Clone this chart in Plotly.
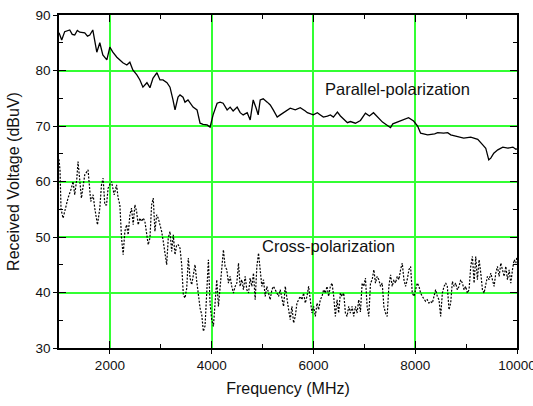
import plotly.graph_objects as go

# ---- data ----
par_freq = [1000, 1053, 1112, 1211, 1260, 1309, 1360, 1408, 1506, 1560, 1605, 1664, 1743, 1802, 1861,
            1940, 1999, 2058, 2137, 2196, 2255, 2333, 2392, 2451, 2530, 2590, 2649, 2728, 2787, 2846,
            2925, 2984, 3043, 3122, 3181, 3240, 3280, 3339, 3378, 3437, 3476, 3535, 3634, 3713, 3772,
            3831, 3910, 3969, 4028, 4107, 4166, 4225, 4304, 4363, 4422, 4501, 4560, 4619, 4698, 4757,
            4816, 4875, 4914, 4954, 5013, 5092, 5151, 5210, 5288, 5348, 5407, 5485, 5544, 5643, 5741,
            5840, 5880, 5998, 6077, 6136, 6195, 6274, 6333, 6392, 6471, 6530, 6589, 6668, 6727, 6825,
            6924, 7022, 7100, 7180, 7357, 7515, 7560, 7712, 7869, 7968, 8047, 8106, 8244, 8382, 8441,
            8559, 8638, 8697, 8835, 8953, 9091, 9229, 9327, 9386, 9445, 9485, 9544, 9623, 9721, 9820,
            9919, 9978, 10000]
par_val = [86.8, 85.5, 87.0, 87.3, 86.5, 86.4, 87.2, 86.9, 86.8, 86.2, 86.4, 87.3, 83.3, 85.0, 82.8,
           81.9, 84.2, 83.3, 82.4, 81.9, 81.4, 81.0, 81.5, 80.1, 79.2, 78.3, 77.0, 77.8, 76.9, 78.6,
           79.6, 78.3, 78.3, 77.8, 77.0, 74.7, 72.9, 75.2, 75.6, 75.2, 74.3, 74.7, 73.4, 72.9, 70.5,
           70.3, 70.2, 69.8, 72.0, 74.1, 74.3, 74.1, 72.9, 73.4, 72.7, 73.4, 72.4, 72.0, 72.4, 71.1,
           74.7, 73.2, 72.0, 74.7, 74.9, 74.3, 73.8, 72.9, 71.6, 72.0, 72.4, 72.9, 73.2, 72.9, 73.3,
           72.7, 72.4, 72.0, 72.4, 72.0, 71.6, 71.8, 72.0, 71.6, 72.5, 71.8, 71.3, 70.6, 70.8, 70.5,
           71.0, 72.3, 71.8, 72.4, 70.7, 69.7, 70.4, 70.9, 71.5, 70.9, 70.0, 68.7, 68.4, 68.6, 68.8,
           68.7, 68.8, 68.4, 68.1, 67.8, 68.0, 67.6, 66.6, 66.0, 63.9, 64.2, 65.1, 65.7, 66.2, 66.0,
           66.2, 65.8, 65.9]

cross_freq = [1000, 1020, 1040, 1080, 1112, 1177, 1244, 1276, 1309, 1350, 1374, 1408, 1441, 1506, 1571,
              1624, 1670, 1703, 1756, 1802, 1835, 1867, 1900, 1934, 1965, 2000, 2032, 2084, 2131, 2162,
              2196, 2229, 2261, 2294, 2328, 2359, 2393, 2426, 2458, 2491, 2525, 2556, 2590, 2623, 2655,
              2688, 2722, 2753, 2787, 2820, 2852, 2885, 2919, 2950, 2984, 3017, 3049, 3082, 3116, 3147,
              3181, 3214, 3246, 3279, 3313, 3344, 3378, 3411, 3443, 3476, 3510, 3541, 3575, 3608, 3640,
              3673, 3707, 3738, 3772, 3805, 3837, 3870,
              3903, 3936, 3968, 4001, 4034, 4067, 4100, 4133, 4165, 4198, 4231, 4264, 4297, 4330, 4362,
              4395, 4428, 4461, 4494, 4527, 4559, 4592, 4625, 4658, 4691, 4724, 4756, 4789, 4822, 4855,
              4888, 4921, 4953, 4986, 5019, 5052, 5085, 5118, 5150, 5183, 5216, 5249, 5282, 5315, 5347,
              5380, 5413, 5446, 5479, 5512, 5544, 5577, 5610, 5643, 5676, 5709, 5741, 5774, 5807, 5840,
              5873, 5905, 5938, 5971, 6004, 6037, 6070, 6102, 6135, 6168, 6201, 6234, 6267, 6299, 6332,
              6365, 6398, 6431, 6464, 6496, 6529, 6562, 6595, 6628, 6661, 6693, 6726, 6759, 6792, 6825,
              6858, 6890, 6923,
              6957, 6990, 7022, 7055, 7088, 7121, 7154, 7187, 7219, 7252, 7285, 7318, 7351, 7384, 7416,
              7449, 7482, 7515, 7548, 7581, 7613, 7646, 7679, 7712, 7745, 7778, 7810, 7843, 7876, 7909,
              7942, 7975, 8007, 8040, 8073, 8106, 8139, 8172, 8204, 8237, 8270, 8303, 8336, 8369, 8401,
              8434, 8467, 8500, 8533, 8566, 8598, 8631, 8664, 8697, 8730, 8763, 8795, 8828, 8861, 8894,
              8927, 8960, 8992, 9025, 9058, 9091, 9124, 9157, 9189, 9222, 9255, 9288, 9321, 9353, 9386,
              9419, 9452, 9485, 9517, 9550, 9583, 9616, 9649, 9682, 9714, 9747, 9780, 9813, 9846, 9878,
              9911, 9944, 9977, 10000]
cross_val = [64.0, 62.0, 55.0, 53.4, 54.6, 57.0, 58.8, 60.0, 57.6, 60.5, 63.6, 60.6, 57.0, 61.2, 62.1,
             56.4, 57.6, 55.2, 52.2, 55.2, 59.4, 60.6, 55.8, 55.8, 58.8, 59.5, 60.0, 57.6, 59.4, 57.0,
             55.8, 49.8, 46.8, 51.0, 52.2, 50.4, 54.0, 55.2, 52.2, 55.8, 54.6, 52.2, 53.4, 52.8, 53.4,
             52.8, 51.0, 48.6, 49.8, 55.8, 57.0, 51.0, 54.0, 53.4, 52.2, 51.0, 49.2, 47.4, 45.0, 49.8,
             51.0, 47.4, 50.4, 46.8, 48.6, 48.6, 48.0, 45.0, 39.6, 39.0, 40.8, 46.2, 42.6, 41.4, 43.2,
             45.0, 42.0, 39.6, 37.2, 36.0, 33.0, 34.0,
             41.1, 45.9, 38.1, 35.1, 33.9, 38.1, 42.3, 37.5, 41.1, 45.3, 47.7, 44.7, 44.1, 41.7, 42.9,
             41.1, 39.9, 41.1, 41.7, 45.3, 41.1, 42.3, 40.5, 42.9, 40.5, 39.9, 42.6, 41.1, 43.5, 38.7,
             44.7, 47.1, 44.1, 41.1, 42.3, 39.3, 41.1, 39.9, 38.7, 40.5, 41.1, 40.5, 39.9, 39.3, 40.5,
             38.7, 37.5, 41.1, 38.7, 36.9, 35.1, 37.5, 34.5, 35.7, 38.1, 38.7, 39.3, 38.7, 39.9, 38.1,
             39.3, 41.1, 38.1, 36.3, 37.5, 35.7, 38.1, 36.9, 38.7, 39.3, 40.5, 39.9, 41.1, 39.3, 41.1,
             41.7, 39.3, 35.7, 38.7, 36.3, 39.9, 39.3, 39.9, 36.3, 35.7, 37.5, 36.3, 37.5, 35.7, 37.5,
             36.3, 38.7, 36.5,
             41.7, 41.1, 42.6, 37.5, 35.7, 41.7, 42.3, 44.1, 41.7, 42.9, 42.3, 41.1, 41.7, 37.5, 36.3,
             35.7, 41.1, 43.2, 41.1, 42.3, 41.7, 42.9, 42.3, 44.1, 45.3, 42.3, 41.1, 42.3, 44.1, 44.7,
             39.9, 39.3, 40.5, 41.7, 41.1, 39.9, 39.3, 38.7, 38.4, 38.7, 38.1, 38.4, 38.1, 39.3, 40.5,
             39.3, 38.7, 35.7, 39.9, 41.1, 41.7, 41.1, 36.9, 38.1, 42.0, 41.1, 41.7, 40.5, 41.1, 42.3,
             41.7, 40.5, 41.1, 39.9, 40.5, 44.7, 46.5, 41.7, 46.5, 42.3, 45.9, 43.5, 40.5, 39.9, 41.7,
             42.9, 42.3, 43.5, 42.3, 41.1, 43.5, 44.7, 42.9, 45.3, 44.1, 42.9, 44.7, 42.3, 44.1, 41.7,
             44.1, 45.9, 45.3, 46.5]

labels = ["Parallel-polarization", "Cross-polarization"]
label_pos_x = [7660, 6300]
label_pos_y = [76.6, 48.3]

x_range = [1000, 10000]
y_range = [30, 90]
x_ticks = [2000, 4000, 6000, 8000, 10000]
y_ticks = [30, 40, 50, 60, 70, 80, 90]
x_minor = [3000, 5000, 7000, 9000]
y_minor = [35, 45, 55, 65, 75, 85]

FONT = "Liberation Sans, Arial, sans-serif"
GRID = "#33ff33"

fig = go.Figure()
fig.add_trace(go.Scatter(x=par_freq, y=par_val, mode="lines",
                         line=dict(color="black", width=1.3), showlegend=False))
fig.add_trace(go.Scatter(x=cross_freq, y=cross_val, mode="lines",
                         line=dict(color="black", width=1.2, dash="2px,1.5px"), showlegend=False))
# trace on overlay axes (same data) so the inside-tick axes are drawn
fig.add_trace(go.Scatter(x=par_freq, y=par_val, xaxis="x2", yaxis="y2", mode="lines",
                         line=dict(color="rgba(0,0,0,0)", width=0), showlegend=False,
                         hoverinfo="skip"))

for t, xv, yv in zip(labels, label_pos_x, label_pos_y):
    fig.add_annotation(x=xv, y=yv, text=t, showarrow=False,
                       font=dict(family=FONT, size=16.5, color="#111"))

fig.update_layout(
    width=533, height=406,
    margin=dict(l=59, r=16, t=15, b=58, autoexpand=False),
    paper_bgcolor="white", plot_bgcolor="white",
    font=dict(family=FONT, size=13.5, color="#111"),
    xaxis=dict(range=x_range, tickvals=x_ticks, tickformat="d", ticks="outside", ticklen=4,
               tickwidth=1.3, tickcolor="black", showline=True, linecolor="black", linewidth=1.5,
               showgrid=True, gridcolor=GRID, gridwidth=2, zeroline=False,
               ticklabeloverflow="allow", automargin=False,
               title=dict(text="Frequency (MHz)", font=dict(size=16), standoff=11),
               tickfont=dict(size=13.5)),
    yaxis=dict(range=y_range, tickvals=y_ticks, ticks="outside", ticklen=4, tickwidth=1.3,
               tickcolor="black", showline=True, linecolor="black", linewidth=1.5,
               showgrid=True, gridcolor=GRID, gridwidth=2, zeroline=False,
               ticklabeloverflow="allow", automargin=False,
               title=dict(text="Received Voltage (dBuV)", font=dict(size=16), standoff=12),
               tickfont=dict(size=13.5)),
    xaxis2=dict(overlaying="x", anchor="y", range=x_range, tickvals=x_ticks, ticks="inside",
                ticklen=7, tickwidth=1.3, tickcolor="black", showticklabels=False,
                showline=True, linecolor="black", linewidth=1.5, mirror="ticks",
                showgrid=False, zeroline=False, side="bottom", automargin=False,
                minor=dict(tickvals=x_minor, ticks="inside", ticklen=4,
                           tickcolor="black", tickwidth=1.2, showgrid=False)),
    yaxis2=dict(overlaying="y", anchor="x", range=y_range, tickvals=y_ticks, ticks="inside",
                ticklen=7, tickwidth=1.3, tickcolor="black", showticklabels=False,
                showline=True, linecolor="black", linewidth=1.5, mirror="ticks",
                showgrid=False, zeroline=False, side="left", automargin=False,
                minor=dict(tickvals=y_minor, ticks="inside", ticklen=4,
                           tickcolor="black", tickwidth=1.2, showgrid=False)),
)

fig.write_html("out.html")
